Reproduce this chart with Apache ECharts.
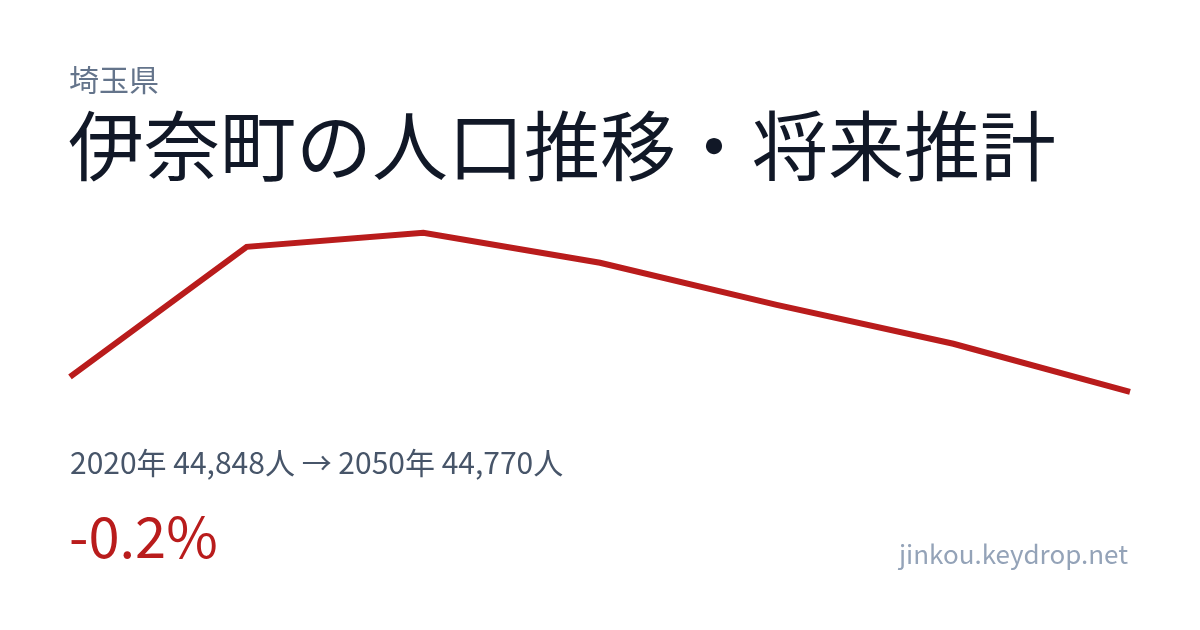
<!DOCTYPE html>
<html>
<head>
<meta charset="utf-8">
<script src="https://cdn.jsdelivr.net/npm/echarts@6/dist/echarts.min.js"></script>
<style>
html,body{margin:0;padding:0;background:#fff;}
#c{width:1200px;height:630px;}
</style>
</head>
<body>
<div id="c"></div>
<script>
const years = ['2020','2025','2030','2035','2040','2045','2050'];
const population = [44848, 45524, 45597, 45441, 45222, 45020, 44770];
const prefecture = '埼玉県';
const titleText = '伊奈町の人口推移・将来推計';
const statsText = '2020年 44,848人 → 2050年 44,770人';
const changeText = '-0.2%';
const siteText = 'jinkou.keydrop.net';

const FONT = '"Noto Sans CJK JP", "Noto Sans", sans-serif';
const chart = echarts.init(document.getElementById('c'), null, {renderer: 'canvas'});
chart.setOption({
  backgroundColor: '#ffffff',
  animation: false,
  grid: {left: 70, right: 70, top: 213, height: 192.3},
  xAxis: {
    type: 'category', data: years, boundaryGap: false, show: false
  },
  yAxis: {
    type: 'value', min: 44700, max: 45700, show: false, splitLine: {show: false}
  },
  series: [{
    type: 'line', data: population, symbol: 'none',
    lineStyle: {color: '#b91c1c', width: 6, join: 'miter', cap: 'butt'}
  }],
  graphic: [
    {type: 'text', left: 69, top: 65, style: {text: prefecture, font: '30px ' + FONT, fill: '#64748b'}},
    {type: 'text', left: 68, top: 108, style: {text: titleText, font: '76px ' + FONT, fill: '#111827'}},
    {type: 'text', left: 70, top: 448, style: {text: statsText, font: '30px ' + FONT, fill: '#475569'}},
    {type: 'text', left: 69, top: 509, style: {text: changeText, font: '56px ' + FONT, fill: '#b91c1c'}},
    {type: 'text', right: 72, top: 541, style: {text: siteText, font: '26px ' + FONT, fill: '#94a3b8'}}
  ]
});
</script>
</body>
</html>
